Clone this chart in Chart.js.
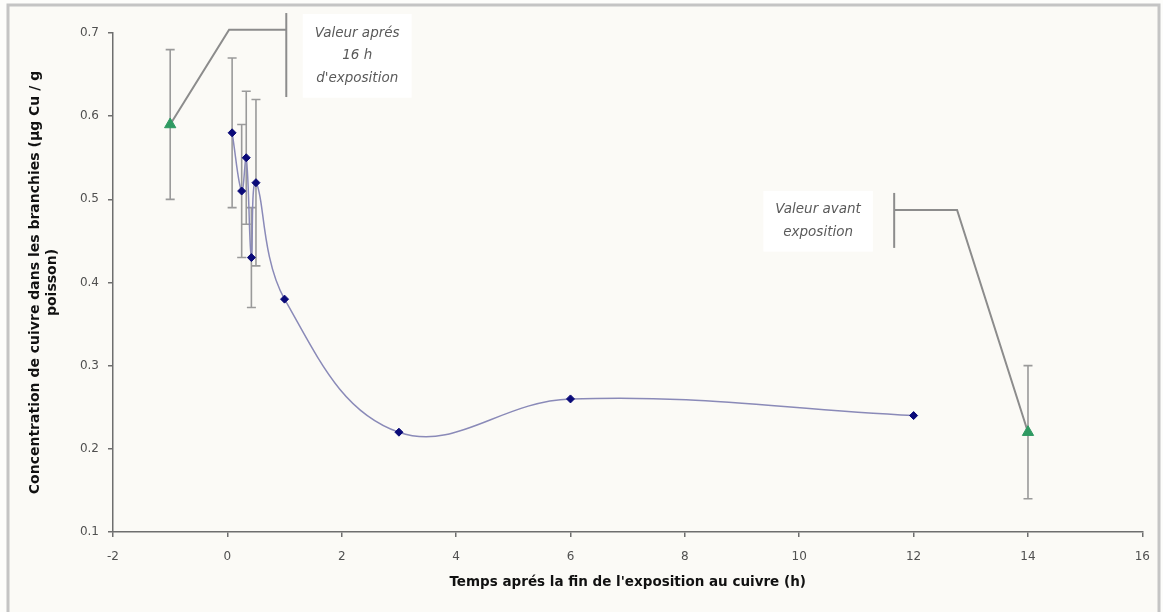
<!DOCTYPE html>
<html><head><meta charset="utf-8">
<script src="https://cdn.jsdelivr.net/npm/chart.js@4/dist/chart.umd.min.js"></script>
<style>
html,body{margin:0;padding:0;background:#ffffff;}
canvas{display:block;}
</style></head><body>
<canvas id="c" width="1163" height="612"></canvas>
<script>
// ---- data ----
const timesHours = [0.083, 0.25, 0.33, 0.42, 0.5, 1, 3, 6, 12];
const copperConc = [0.58, 0.51, 0.55, 0.43, 0.52, 0.38, 0.22, 0.26, 0.24];
const copperErr  = [0.09, 0.08, 0.08, 0.06, 0.10, 0, 0, 0, 0];
const refTimes = [-1, 14];
const refConc  = [0.59, 0.22];
const refErr   = [0.09, 0.08];
const xTickMin = -2, xTickMax = 16, xTickStep = 2;
const yTickMin = 0.1, yTickMax = 0.7, yTickStep = 0.1;
const xTitle = "Temps aprés la fin de l'exposition au cuivre (h)";
const yTitle = ["Concentration de cuivre dans les branchies (µg Cu / g", "poisson)"];
const noteAfter = ["Valeur aprés", "16 h", "d'exposition"];
const noteBefore = ["Valeur avant", "exposition"];

// callout geometry (data coordinates)
const callouts = [
  { from: [-1, 0.59], elbow: [0.03, 0.704], barX: 1.03, barY: [0.724, 0.623], text: noteAfter, textX: 2.27, textY: [0.70, 0.673, 0.645] },
  { from: [14, 0.22], elbow: [12.76, 0.4873], barX: 11.66, barY: [0.5077, 0.4416], text: noteBefore, textX: 10.33, textY: [0.4873, 0.46] }
];

const FONT = "'DejaVu Sans', Verdana, sans-serif";

const overlay = {
  id: 'overlay',
  beforeDraw(chart) {
    const ctx = chart.ctx;
    ctx.save();
    ctx.fillStyle = '#fdfdfb';
    ctx.fillRect(0, 0, chart.width, chart.height);
    ctx.fillStyle = '#fbfaf6';
    ctx.fillRect(8, 5, 1151, 620);
    ctx.strokeStyle = '#c4c4c4';
    ctx.lineWidth = 3;
    ctx.strokeRect(8, 5, 1151, 620);
    ctx.restore();
  },
  beforeDatasetsDraw(chart) {
    const ctx = chart.ctx, xs = chart.scales.x, ys = chart.scales.y;
    ctx.save();
    ctx.strokeStyle = '#8c8c8c';
    ctx.lineWidth = 2;
    callouts.forEach(c => {
      ctx.beginPath();
      ctx.moveTo(xs.getPixelForValue(c.from[0]), ys.getPixelForValue(c.from[1]));
      ctx.lineTo(xs.getPixelForValue(c.elbow[0]), ys.getPixelForValue(c.elbow[1]));
      ctx.lineTo(xs.getPixelForValue(c.barX), ys.getPixelForValue(c.elbow[1]));
      ctx.stroke();
      ctx.beginPath();
      ctx.moveTo(xs.getPixelForValue(c.barX), ys.getPixelForValue(c.barY[0]));
      ctx.lineTo(xs.getPixelForValue(c.barX), ys.getPixelForValue(c.barY[1]));
      ctx.stroke();
    });
    ctx.strokeStyle = '#9a9a9a';
    ctx.lineWidth = 1.6;
    const drawErr = (xv, yv, ev) => {
      if (!ev) return;
      const px = xs.getPixelForValue(xv);
      const t = ys.getPixelForValue(yv + ev), b = ys.getPixelForValue(yv - ev);
      ctx.beginPath();
      ctx.moveTo(px, t); ctx.lineTo(px, b);
      ctx.moveTo(px - 4.5, t); ctx.lineTo(px + 4.5, t);
      ctx.moveTo(px - 4.5, b); ctx.lineTo(px + 4.5, b);
      ctx.stroke();
    };
    timesHours.forEach((t, i) => drawErr(t, copperConc[i], copperErr[i]));
    refTimes.forEach((t, i) => drawErr(t, refConc[i], refErr[i]));
    ctx.restore();
  },
  afterDraw(chart) {
    const ctx = chart.ctx, xs = chart.scales.x, ys = chart.scales.y;
    ctx.save();
    ctx.font = 'italic 13.5px ' + FONT;
    ctx.textAlign = 'center';
    ctx.textBaseline = 'middle';
    callouts.forEach(c => {
      const cx = xs.getPixelForValue(c.textX);
      const ys_ = c.textY.map(v => ys.getPixelForValue(v));
      const w = Math.max(...c.text.map(s => ctx.measureText(s).width)) + 24;
      ctx.fillStyle = '#ffffff';
      ctx.fillRect(cx - w / 2, ys_[0] - 19, w, ys_[ys_.length - 1] - ys_[0] + 38);
      ctx.fillStyle = '#5a5a5a';
      c.text.forEach((s, i) => ctx.fillText(s, cx, ys_[i]));
    });
    ctx.restore();
  }
};

new Chart(document.getElementById('c'), {
  type: 'scatter',
  data: {
    datasets: [
      {
        label: 'Branchies',
        data: timesHours.map((t, i) => ({ x: t, y: copperConc[i] })),
        showLine: true,
        borderColor: '#8a8ab8',
        borderWidth: 1.5,
        tension: 0.4,
        pointStyle: 'rectRot',
        pointRadius: 4,
        pointBackgroundColor: '#0a0a78',
        pointBorderColor: '#0a0a78',
        pointBorderWidth: 1
      },
      {
        label: 'Références',
        data: refTimes.map((t, i) => ({ x: t, y: refConc[i] })),
        showLine: false,
        pointStyle: 'triangle',
        pointRadius: 6.5,
        pointBackgroundColor: '#2f9a62',
        pointBorderColor: '#2f9a62',
        pointBorderWidth: 1
      }
    ]
  },
  options: {
    responsive: false,
    animation: false,
    devicePixelRatio: 1,
    layout: { padding: { left: 0, top: 33, right: 18, bottom: 0 } },
    plugins: { legend: { display: false }, tooltip: { enabled: false } },
    scales: {
      x: {
        type: 'linear',
        min: xTickMin, max: xTickMax,
        afterFit: s => { s.height = 80; },
        ticks: { stepSize: xTickStep, color: '#505050', font: { family: FONT, size: 12 }, padding: 13 },
        grid: { drawOnChartArea: false, drawTicks: true, tickLength: 5, color: '#6e6e6e', lineWidth: 1.5 },
        border: { display: true, color: '#6e6e6e', width: 1.5 },
        title: { display: true, text: xTitle, color: '#111', font: { family: FONT, size: 13.5, weight: 'bold', lineHeight: 1.2 }, padding: { top: 0, bottom: 21 } }
      },
      y: {
        type: 'linear',
        min: yTickMin, max: yTickMax,
        afterFit: s => { s.width = 113; },
        ticks: { stepSize: yTickStep, color: '#505050', font: { family: FONT, size: 12 }, padding: 9 },
        grid: { drawOnChartArea: false, drawTicks: true, tickLength: 5, color: '#6e6e6e', lineWidth: 1.5 },
        border: { display: true, color: '#6e6e6e', width: 1.5 },
        title: { display: true, text: yTitle, color: '#111', font: { family: FONT, size: 14, weight: 'bold', lineHeight: 1.2 }, padding: { top: 27, bottom: 0 } }
      }
    }
  },
  plugins: [overlay]
});
</script>
</body></html>
